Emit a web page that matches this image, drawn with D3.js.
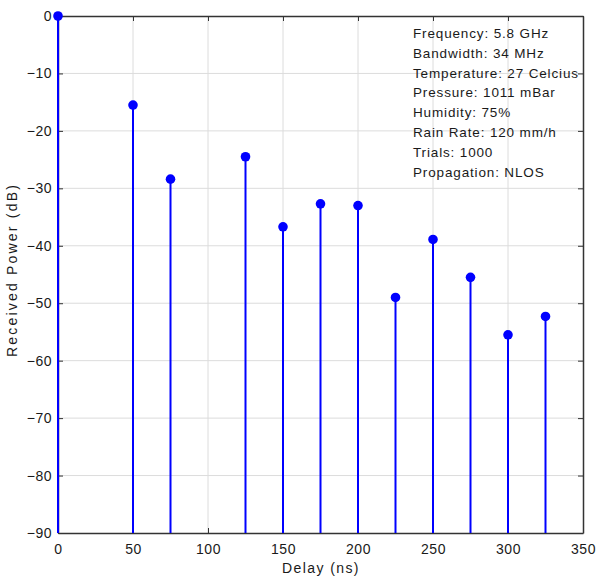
<!DOCTYPE html>
<html><head><meta charset="utf-8">
<script src="https://cdn.jsdelivr.net/npm/d3@7"></script>
<style>body{margin:0;background:#fff;}svg{display:block;font-family:"Liberation Sans",Arial,sans-serif;}</style>
</head><body>
<svg id="c" width="597" height="577"></svg>
<script>
const delays = [0, 50, 75, 125, 150, 175, 200, 225, 250, 275, 300, 325];
const power = [0, -15.5, -28.4, -24.5, -36.7, -32.7, -33.0, -49.0, -38.9, -45.5, -55.5, -52.3];
const xTicks = [0, 50, 100, 150, 200, 250, 300, 350];
const yTicks = [0, -10, -20, -30, -40, -50, -60, -70, -80, -90];
const infoLines = ["Frequency: 5.8 GHz","Bandwidth: 34 MHz","Temperature: 27 Celcius","Pressure: 1011 mBar","Humidity: 75%","Rain Rate: 120 mm/h","Trials: 1000","Propagation: NLOS"];

const L = 58, R = 583, T = 16, B = 533;
const svg = d3.select("#c");
const x = d3.scaleLinear().domain([0, 350]).range([L, R]);
const y = d3.scaleLinear().domain([-90, 0]).range([B, T]);

// grid
svg.append("g").selectAll("line").data(xTicks.slice(1, -1)).join("line")
  .attr("x1", d => x(d)).attr("x2", d => x(d)).attr("y1", T).attr("y2", B)
  .attr("stroke", "#dcdcdc").attr("stroke-width", 1);
svg.append("g").selectAll("line").data(yTicks.slice(1, -1)).join("line")
  .attr("y1", d => y(d)).attr("y2", d => y(d)).attr("x1", L).attr("x2", R)
  .attr("stroke", "#dcdcdc").attr("stroke-width", 1);

// axes
const fmt = d3.format("d");
const gx = svg.append("g").attr("transform", `translate(0,${B})`)
  .call(d3.axisBottom(x).tickValues(xTicks).tickFormat(fmt).tickSizeInner(-5).tickSizeOuter(0).tickPadding(11));
const gxt = svg.append("g").attr("transform", `translate(0,${T})`)
  .call(d3.axisTop(x).tickValues(xTicks).tickFormat("").tickSizeInner(-5).tickSizeOuter(0));
const gy = svg.append("g").attr("transform", `translate(${L},0)`)
  .call(d3.axisLeft(y).tickValues(yTicks).tickFormat(fmt).tickSizeInner(-5).tickSizeOuter(0).tickPadding(6));
const gyr = svg.append("g").attr("transform", `translate(${R},0)`)
  .call(d3.axisRight(y).tickValues(yTicks).tickFormat("").tickSizeInner(-5).tickSizeOuter(0));
[gx, gxt, gy, gyr].forEach(g => {
  g.select(".domain").attr("stroke", "#333").attr("stroke-width", 1.5);
  g.selectAll(".tick line").attr("stroke", "#333");
  g.selectAll("text").attr("font-size", 14).attr("letter-spacing", 0.5).attr("fill", "#1a1a1a")
    .attr("font-family", "Liberation Sans, Arial, sans-serif");
});

// stems
svg.append("g").selectAll("line").data(delays).join("line")
  .attr("x1", d => x(d)).attr("x2", d => x(d))
  .attr("y1", y(-90)).attr("y2", (d, i) => y(power[i]))
  .attr("stroke", "#0000ff").attr("stroke-width", 2);
svg.append("g").selectAll("circle").data(delays).join("circle")
  .attr("cx", d => x(d)).attr("cy", (d, i) => y(power[i])).attr("r", 4.8)
  .attr("fill", "#0000ff");

// info text
svg.append("g").selectAll("text").data(infoLines).join("text")
  .attr("x", 413).attr("y", (d, i) => 38 + i * 19.8)
  .attr("font-size", 13.5).attr("letter-spacing", 0.85).attr("fill", "#1a1a1a").text(d => d);

// axis labels
svg.append("text").attr("x", 321).attr("y", 573).attr("text-anchor", "middle")
  .attr("font-size", 14).attr("letter-spacing", 1.4).attr("fill", "#1a1a1a").text("Delay (ns)");
svg.append("text").attr("transform", `translate(17,270) rotate(-90)`)
  .attr("text-anchor", "middle").attr("font-size", 14).attr("letter-spacing", 2.2).attr("fill", "#1a1a1a").text("Received Power (dB)");
</script>
</body></html>
